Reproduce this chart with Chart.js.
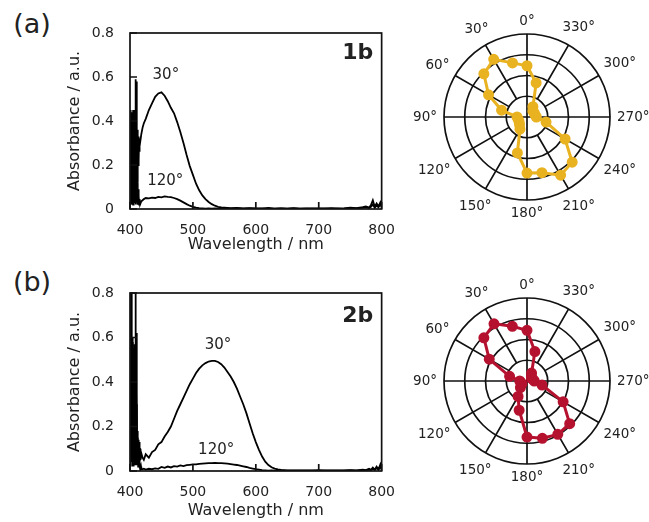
<!DOCTYPE html>
<html>
<head>
<meta charset="utf-8">
<script src="https://cdn.jsdelivr.net/npm/chart.js@4.4.0/dist/chart.umd.min.js"></script>
<style>
body{margin:0;background:#fff;width:649px;height:522px;position:relative;overflow:hidden;font-family:'DejaVu Sans',sans-serif;color:#222}
.box{position:absolute}
.tag{position:absolute;font-size:27px;line-height:1;transform:translate(-50%,-50%)}
</style>
</head>
<body>
<div class="tag" style="left:32px;top:23px">(a)</div>
<div class="tag" style="left:32px;top:281px">(b)</div>
<div class="box" style="left:0;top:0"><canvas id="specA" width="400" height="260"></canvas></div>
<div class="box" style="left:0;top:260px"><canvas id="specB" width="400" height="262"></canvas></div>
<div class="box" style="left:400px;top:0"><canvas id="polA" width="249" height="235"></canvas></div>
<div class="box" style="left:400px;top:260px"><canvas id="polB" width="249" height="240"></canvas></div>
<script>
// spectra (a) 1b
const wlA = [400,400.5,401,401.5,402,402.5,403,403.5,404,404.5,405,405.5,406,406.5,407,407.5,408,408.5,409,409.5,410,410.5,411,411.5,412,412.5,413,413.5,414,414.5,415,415.5,416,
  418,420,422,
  425,430,435,440,445,450,455,460,465,470,475,480,485,490,495,500,505,510,515,520,525,530,535,540,545,550,
  560,570,580,590,600,610,620,630,640,650,660,670,680,690,700,710,720,730,740,750,760,770,
  775,780,783,786,789,792,795,798,800];
const a30 = [0.05,0.44,0.02,0.45,0.05,0.42,0.03,0.44,0.08,0.40,0.02,0.38,0.06,0.45,0.04,0.35,0.10,0.42,0.05,0.59,0.08,0.58,0.15,0.36,0.12,0.30,0.20,0.33,0.22,0.32,0.26,0.31,0.30,
  0.34,0.37,0.39,
  0.41,0.45,0.48,0.51,0.525,0.53,0.515,0.49,0.46,0.435,0.395,0.35,0.30,0.245,0.195,0.155,0.115,0.085,0.062,0.045,0.032,0.022,0.015,0.010,0.007,0.006,
  0.004,0.005,0.003,0.004,0.003,0.002,0.005,0.002,0.003,0.002,0.004,0.002,0.003,0.002,0.003,0.002,0.004,0.002,0.003,0.006,0.004,0.008,
  0.012,0.006,0.018,0.04,0.01,0.025,0.012,0.03,0.015];
const a120 = [0.40,0.03,0.43,0.04,0.41,0.02,0.36,0.05,0.33,0.02,0.45,0.04,0.30,0.03,0.28,0.06,0.32,0.02,0.22,0.08,0.25,0.03,0.18,0.05,0.12,0.02,0.09,0.04,0.06,0.02,0.03,0.045,0.02,
  0.035,0.04,0.045,
  0.05,0.048,0.052,0.05,0.055,0.053,0.057,0.055,0.054,0.05,0.045,0.038,0.03,0.022,0.015,0.01,0.006,0.004,0.003,0.002,0.003,0.002,0.003,0.002,0.002,0.003,
  0.002,0.003,0.002,0.003,0.002,0.003,0.002,0.002,0.003,0.002,0.003,0.002,0.002,0.003,0.002,0.003,0.002,0.003,0.002,0.004,0.003,0.005,
  0.007,0.004,0.01,0.02,0.006,0.015,0.008,0.02,0.01];

// spectra (b) 2b
const wlB = [400,400.5,401,401.5,402,402.5,403,403.5,404,404.5,405,405.5,406,406.5,407,407.5,408,408.5,409,409.5,410,410.5,411,411.5,412,412.5,413,413.5,414,414.5,415,415.5,416,416.5,417,417.5,418,
  420,422,
  425,430,435,440,445,450,455,460,465,470,475,480,485,490,495,500,505,510,515,520,525,530,535,540,545,550,555,560,565,570,
  575,580,585,590,595,600,605,610,615,620,625,630,635,640,645,650,655,660,
  670,680,690,700,710,720,730,740,750,760,
  770,775,780,783,786,789,792,795,798,800];
const b30 = [0.10,0.55,0.05,0.60,0.90,0.10,0.58,0.05,0.60,0.10,0.55,0.03,0.52,0.08,0.57,0.05,0.50,0.10,0.92,0.05,0.62,0.08,0.35,0.06,0.18,0.05,0.14,0.08,0.12,0.05,0.13,0.06,0.10,0.05,0.09,0.06,0.08,
  0.06,0.05,
  0.075,0.06,0.085,0.095,0.12,0.13,0.155,0.175,0.20,0.235,0.27,0.30,0.33,0.36,0.39,0.415,0.44,0.46,0.475,0.485,0.492,0.495,0.495,0.49,0.48,0.465,0.445,0.425,0.40,0.37,
  0.335,0.30,0.26,0.215,0.17,0.13,0.095,0.065,0.042,0.027,0.017,0.011,0.007,0.005,0.004,0.003,0.002,0.003,
  0.002,0.003,0.002,0.004,0.002,0.003,0.002,0.003,0.004,0.003,
  0.006,0.004,0.01,0.005,0.015,0.006,0.02,0.008,0.03,0.01];
const b120 = [0.62,0.02,0.58,0.03,0.50,0.60,0.04,0.56,0.02,0.58,0.05,0.50,0.02,0.55,0.04,0.48,0.03,0.52,0.05,0.45,0.03,0.30,0.04,0.15,0.03,0.12,0.02,0.08,0.03,0.06,0.02,0.04,0.01,0.03,0.01,0.02,0.01,
  0.008,0.01,
  0.006,0.01,0.008,0.012,0.01,0.018,0.014,0.02,0.016,0.022,0.02,0.025,0.022,0.026,0.028,0.03,0.03,0.032,0.033,0.034,0.035,0.035,0.036,0.035,0.035,0.034,0.033,0.031,0.029,0.027,
  0.024,0.021,0.018,0.014,0.011,0.008,0.006,0.004,0.003,0.002,0.003,0.002,0.002,0.003,0.002,0.002,0.003,0.002,
  0.003,0.002,0.003,0.002,0.003,0.002,0.003,0.002,0.003,0.002,
  0.004,0.003,0.006,0.004,0.01,0.005,0.012,0.006,0.018,0.008];

// polar plots, angle in degrees (counter-clockwise from top)
const polarAngles = [0,15,30,45,60,75,90,105,120,135,150,165,180,195,210,225,240,255,270,285,300,315,330,345];
const polA = [2.47,2.70,3.21,2.94,2.14,1.27,0.48,0.44,0.44,0.51,0.68,1.79,2.70,2.78,3.24,3.08,2.12,0.95,0.45,0.40,0.40,0.40,0.57,1.70];
const polB = [2.44,2.73,3.18,2.94,2.10,0.87,0.35,0.30,0.28,0.45,0.86,1.46,2.70,2.86,2.97,2.91,2.01,0.75,0.35,0.30,0.25,0.30,0.44,1.47];

const FONT = "'DejaVu Sans', sans-serif";
Chart.defaults.font.family = FONT;
Chart.defaults.color = '#222';

// frame around plot + inward ticks
const framePlugin = {
  id: 'frame',
  afterDatasetsDraw(chart) {
    const {ctx, chartArea: a, scales: {x, y}} = chart;
    ctx.save();
    ctx.strokeStyle = '#111';
    ctx.lineWidth = 1.7;
    ctx.strokeRect(a.left, a.top, a.right - a.left, a.bottom - a.top);
    ctx.beginPath();
    x.ticks.forEach(t => {
      const px = x.getPixelForValue(t.value);
      ctx.moveTo(px, a.bottom); ctx.lineTo(px, a.bottom - 7);
    });
    y.ticks.forEach(t => {
      const py = y.getPixelForValue(t.value);
      ctx.moveTo(a.left, py); ctx.lineTo(a.left + 7, py);
    });
    ctx.stroke();
    ctx.restore();
  }
};

function notesPlugin(items) {
  return {
    id: 'notes',
    afterDraw(chart) {
      const {ctx, scales: {x, y}} = chart;
      ctx.save();
      ctx.fillStyle = '#222';
      ctx.textAlign = 'center';
      ctx.textBaseline = 'middle';
      items.forEach(n => {
        ctx.font = (n.bold ? 'bold ' : '') + n.size + 'px ' + FONT;
        ctx.fillText(n.text, x.getPixelForValue(n.x), y.getPixelForValue(n.y));
      });
      ctx.restore();
    }
  };
}

function spectrum(id, wl, s30, s120, padBottom, xHeight, notes) {
  const pts = arr => wl.map((w, i) => ({x: w, y: arr[i]}));
  return new Chart(document.getElementById(id), {
    type: 'line',
    data: {
      datasets: [
        {label: '30°', data: pts(s30)},
        {label: '120°', data: pts(s120)}
      ]
    },
    options: {
      responsive: false,
      animation: false,
      layout: {padding: {left: 65, right: 13, top: 33, bottom: padBottom}},
      elements: {
        line: {borderColor: '#000', borderWidth: 1.8, tension: 0},
        point: {radius: 0}
      },
      plugins: {legend: {display: false}, tooltip: {enabled: false}},
      scales: {
        x: {
          type: 'linear', min: 400, max: 800,
          ticks: {stepSize: 100, padding: 5, maxRotation: 0, autoSkip: false, font: {size: 14}},
          grid: {display: false},
          border: {display: false},
          title: {display: true, text: 'Wavelength / nm', font: {size: 16}, padding: 0},
          afterFit: s => { s.height = xHeight; }
        },
        y: {
          min: 0, max: 0.8,
          ticks: {stepSize: 0.2, padding: 8, font: {size: 14}},
          grid: {display: false},
          border: {display: false},
          title: {display: true, text: 'Absorbance / a.u.', font: {size: 16}, padding: 0},
          afterFit: s => { s.width = 65; }
        }
      }
    },
    plugins: [framePlugin, notesPlugin(notes)]
  });
}

spectrum('specA', wlA, a30, a120, 6, 45, [
  {text: '30°', x: 457, y: 0.61, size: 15},
  {text: '120°', x: 456, y: 0.127, size: 15},
  {text: '1b', x: 762, y: 0.71, size: 22, bold: true}
]);
spectrum('specB', wlB, b30, b120, 2, 49, [
  {text: '30°', x: 540, y: 0.566, size: 15},
  {text: '120°', x: 537, y: 0.094, size: 15},
  {text: '2b', x: 762, y: 0.695, size: 22, bold: true}
]);

// spokes (diagonals start at first ring) and degree labels
const polarDeco = {
  id: 'polarDeco',
  beforeDatasetsDraw(chart) {
    const s = chart.scales.r, ctx = chart.ctx;
    const rIn = s.getDistanceFromCenterForValue(1);
    const rOut = s.getDistanceFromCenterForValue(s.max);
    ctx.save();
    ctx.strokeStyle = '#111';
    ctx.lineWidth = 1.7;
    ctx.beginPath();
    chart.data.labels.forEach((lab, i) => {
      const a = parseInt(lab);
      if (a % 30) return;
      const p0 = s.getPointPosition(i, a % 90 ? rIn : 0);
      const p1 = s.getPointPosition(i, rOut);
      ctx.moveTo(p0.x, p0.y); ctx.lineTo(p1.x, p1.y);
    });
    ctx.stroke();
    ctx.font = '13.5px ' + FONT;
    ctx.fillStyle = '#222';
    ctx.textAlign = 'center';
    ctx.textBaseline = 'middle';
    const d = rOut + 7;
    chart.data.labels.forEach((lab, i) => {
      const a = parseInt(lab);
      if (a % 30) return;
      const p = s.getPointPosition(i, d);
      const dx = (p.x - s.xCenter) / d, dy = (p.y - s.yCenter) / d;
      const k = Math.abs(dx) * ctx.measureText(lab).width / 2 + Math.abs(dy) * 6;
      ctx.fillText(lab, p.x + dx * k, p.y + dy * k);
    });
    ctx.restore();
  }
};

function polar(id, vals, color, padTop, padBottom) {
  // radar runs clockwise, the reference angles run counter-clockwise
  const order = polarAngles.map((_, i) => (360 - 15 * i) % 360);
  return new Chart(document.getElementById(id), {
    type: 'radar',
    data: {
      labels: order.map(a => a + '°'),
      datasets: [{
        data: order.map(a => vals[polarAngles.indexOf(a)]),
        borderColor: color,
        backgroundColor: color,
        pointBackgroundColor: color,
        pointBorderColor: color,
        pointRadius: 4,
        borderWidth: 3,
        fill: false
      }]
    },
    options: {
      responsive: false,
      animation: false,
      layout: {padding: {left: 44, right: 39, top: padTop, bottom: padBottom}},
      plugins: {legend: {display: false}, tooltip: {enabled: false}},
      scales: {
        r: {
          min: 0, max: 4,
          ticks: {display: false, stepSize: 1},
          grid: {circular: true, color: '#111', lineWidth: 1.7},
          angleLines: {display: false},
          pointLabels: {display: false}
        }
      }
    },
    plugins: [polarDeco]
  });
}

polar('polA', polA, '#E9B220', 34, 35);
polar('polB', polB, '#B5122F', 38, 36);
</script>
</body>
</html>
